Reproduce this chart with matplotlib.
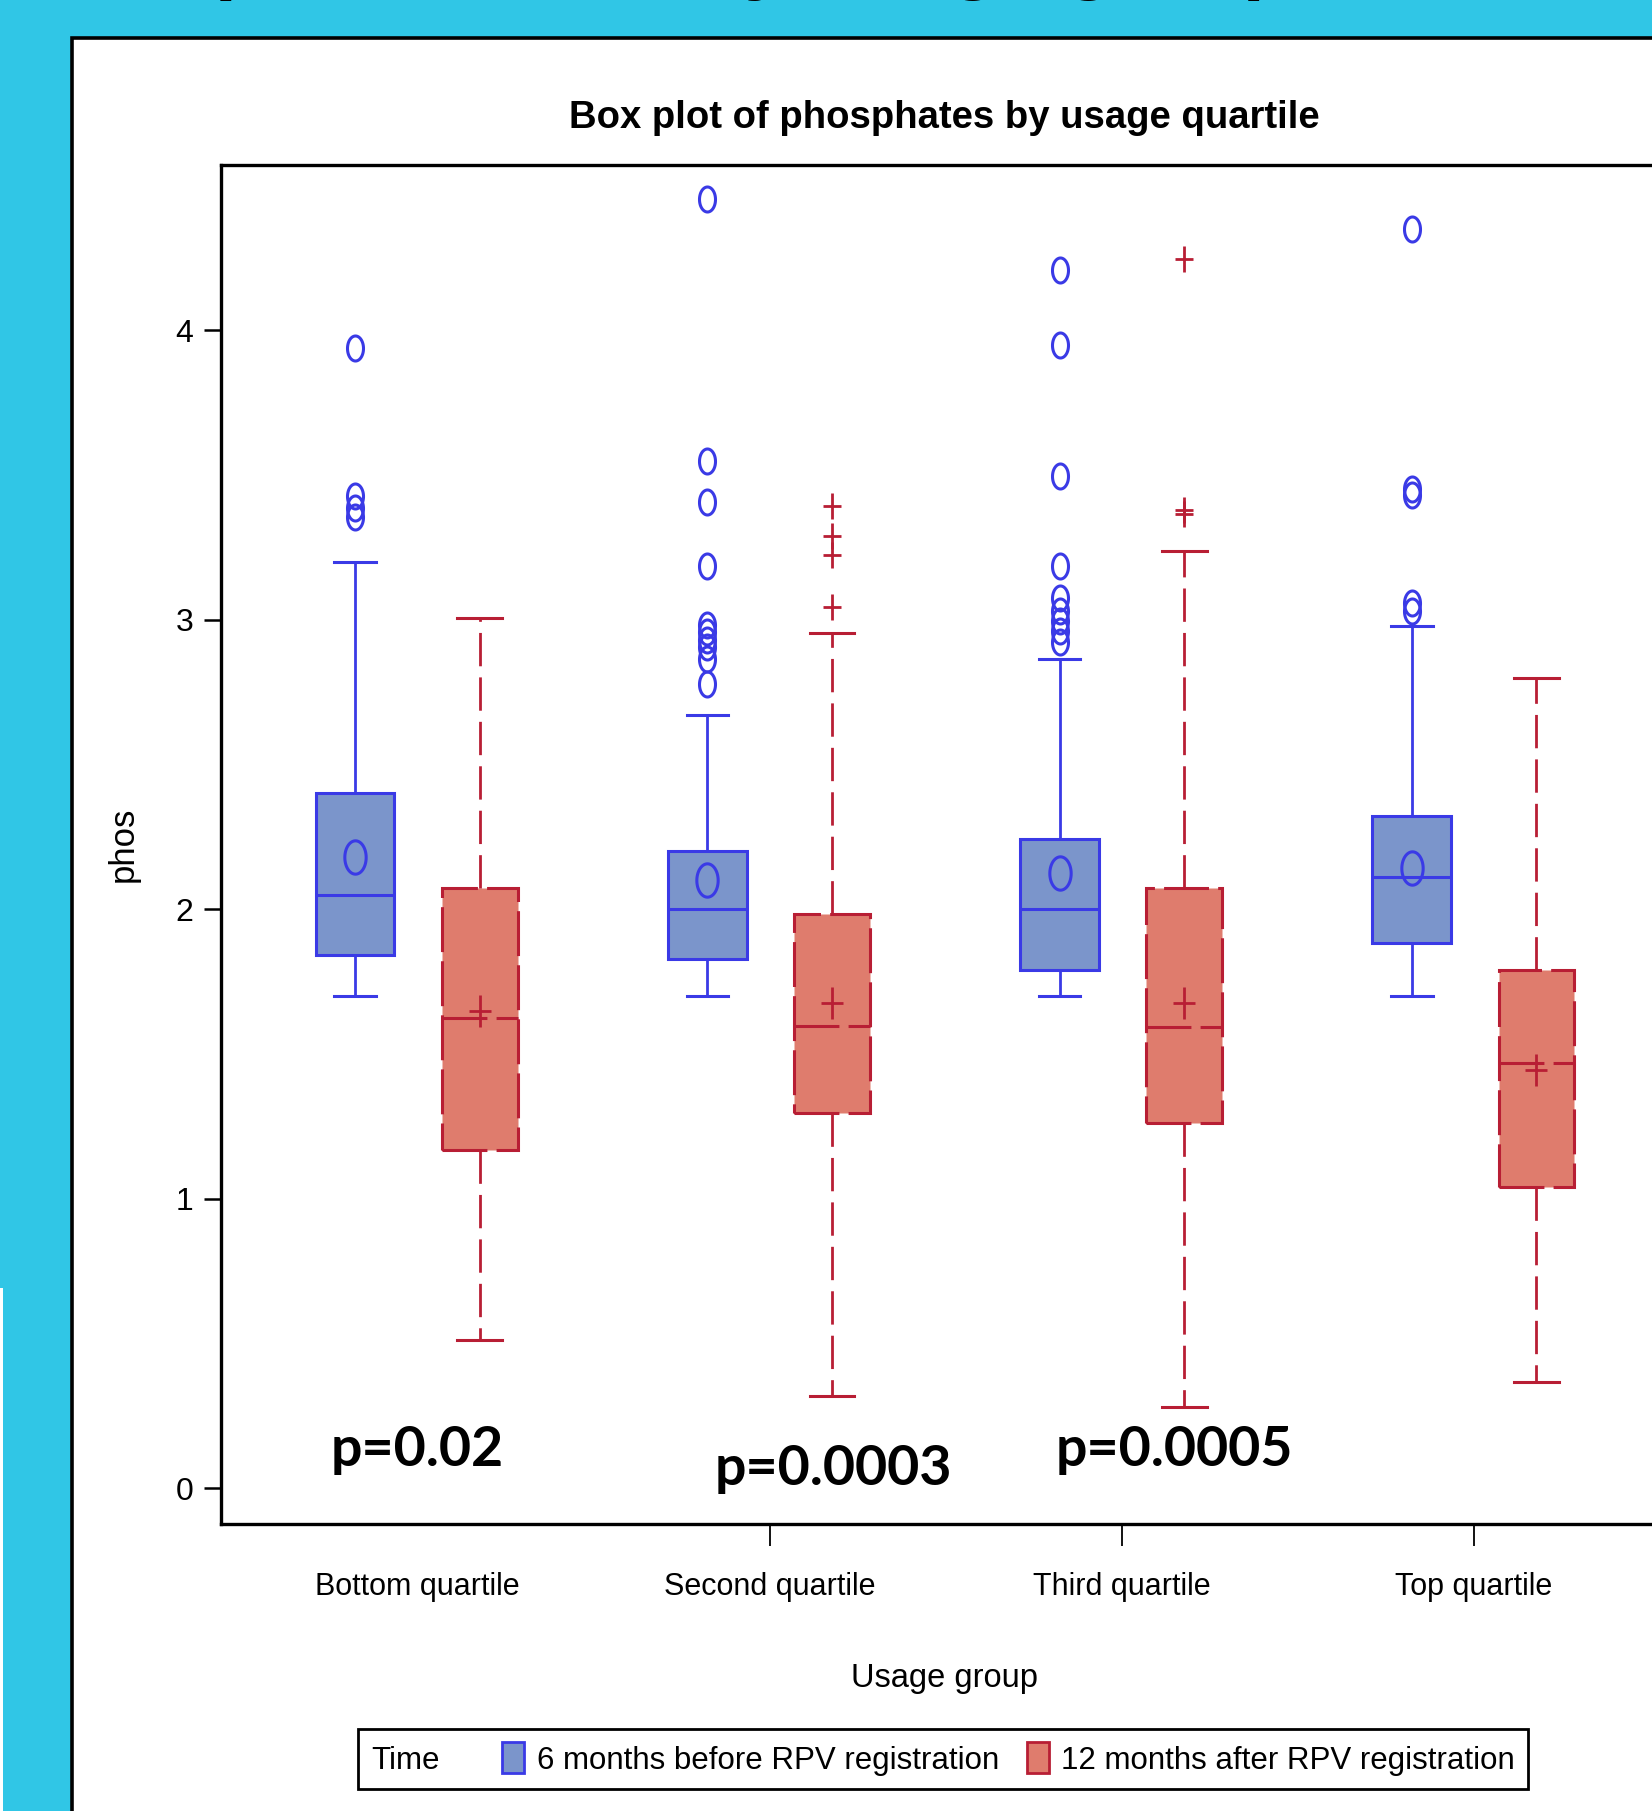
import numpy as np
import matplotlib
matplotlib.use("Agg")
import matplotlib.pyplot as plt
from matplotlib.path import Path
from matplotlib.patches import Patch, Rectangle

# ---- data ----
groups = ["Bottom quartile", "Second quartile", "Third quartile", "Top quartile"]
series = ["6 months before RPV registration", "12 months after RPV registration"]

before_q1 = [1.841, 1.830, 1.792, 1.883]
before_med = [2.049, 2.000, 2.000, 2.111]
before_q3 = [2.400, 2.203, 2.242, 2.322]
before_lo = [1.702, 1.702, 1.702, 1.702]
before_hi = [3.199, 2.670, 2.864, 2.979]
before_mean = [2.180, 2.100, 2.126, 2.142]
before_out = [[3.937, 3.426, 3.386, 3.353],
              [4.454, 3.548, 3.406, 3.185, 2.983, 2.957, 2.930, 2.904, 2.864, 2.778],
              [4.206, 3.948, 3.496, 3.185, 3.076, 3.030, 2.997, 2.960, 2.924],
              [4.348, 3.450, 3.432, 3.056, 3.029]]

after_q1 = [1.170, 1.298, 1.263, 1.042]
after_med = [1.625, 1.597, 1.594, 1.468]
after_q3 = [2.075, 1.984, 2.075, 1.792]
after_lo = [0.512, 0.319, 0.281, 0.369]
after_hi = [3.007, 2.953, 3.238, 2.798]
after_mean = [1.648, 1.676, 1.676, 1.445]
after_out = [[], [3.394, 3.289, 3.224, 3.045], [4.245, 3.380, 3.366], []]

p_labels = ["p=0.02", "p=0.0003", "p=0.0005"]
p_x = [0.0, 1.18, 2.15]
p_y = [0.077, 0.011, 0.077]

# ---- styles ----
CYAN = "#30c6e6"
BLUE = "#3a3ae6"
BLUE_FILL = "#7b95cb"
RED = "#b81e34"
RED_FILL = "#df7c6d"
ARIAL = ["Liberation Sans", "DejaVu Sans"]

plt.rcParams["font.family"] = ARIAL

t = np.linspace(0, 2 * np.pi, 64)
OVAL = Path(np.column_stack([0.64 * np.cos(t), np.sin(t)]), closed=True)
PLUS = Path([(-0.7, 0), (0.7, 0), (0, -1), (0, 1)],
            [Path.MOVETO, Path.LINETO, Path.MOVETO, Path.LINETO])


def make_stats(q1, med, q3, lo, hi, mean, out):
    return [dict(q1=a, med=b, q3=c, whislo=d, whishi=e, mean=f, fliers=g)
            for a, b, c, d, e, f, g in zip(q1, med, q3, lo, hi, mean, out)]


W, H = 1652, 1811
fig = plt.figure(figsize=(W / 100, H / 100), dpi=100)
fig.patch.set_facecolor(CYAN)

# white slide panel and stray white strip
fig.patches.append(Rectangle((71.5 / W, -0.05), 1.2, 1 - 37.5 / H + 0.05,
                             transform=fig.transFigure, facecolor="white",
                             edgecolor="black", linewidth=2.6, zorder=-5))
fig.patches.append(Rectangle((0, 0), 3 / W, (H - 1288) / H, transform=fig.transFigure,
                             facecolor="white", edgecolor="none", zorder=-4))

# cut-off slide heading (only descenders visible)
fig.text(19 / W, 1 + 16 / H, "Phosphate levels by usage group", ha="left", va="baseline",
         fontsize=57.6, fontweight="bold")

ax = fig.add_axes([220.6 / W, 1 - 1523.5 / H, (1670.3 - 220.6) / W, (1523.5 - 165.2) / H])
pos = np.arange(len(groups))

ax.bxp(make_stats(before_q1, before_med, before_q3, before_lo, before_hi, before_mean, before_out),
       positions=pos - 0.177, widths=0.224, capwidths=0.118, patch_artist=True,
       showmeans=True, manage_ticks=False,
       boxprops=dict(facecolor=BLUE_FILL, edgecolor=BLUE, linewidth=2.2),
       medianprops=dict(color=BLUE, linewidth=2.2),
       whiskerprops=dict(color=BLUE, linewidth=2),
       capprops=dict(color=BLUE, linewidth=2.2),
       meanprops=dict(marker=OVAL, markersize=24, markerfacecolor="none",
                      markeredgecolor=BLUE, markeredgewidth=2.2, linestyle="none"),
       flierprops=dict(marker=OVAL, markersize=18, markerfacecolor="none",
                       markeredgecolor=BLUE, markeredgewidth=2.2, linestyle="none"))

ax.bxp(make_stats(after_q1, after_med, after_q3, after_lo, after_hi, after_mean, after_out),
       positions=pos + 0.177, widths=0.215, capwidths=0.127, patch_artist=True,
       showmeans=True, manage_ticks=False,
       boxprops=dict(facecolor=RED_FILL, edgecolor=RED, linewidth=2.2, linestyle=(0, (14.7, 3))),
       medianprops=dict(color=RED, linewidth=2.2, linestyle=(0, (14.7, 3))),
       whiskerprops=dict(color=RED, linewidth=2, linestyle=(0, (12, 4))),
       capprops=dict(color=RED, linewidth=2.2),
       meanprops=dict(marker=PLUS, markersize=23, markeredgecolor=RED,
                      markeredgewidth=2, linestyle="none"),
       flierprops=dict(marker=PLUS, markersize=18.7, markeredgecolor=RED,
                       markeredgewidth=2, linestyle="none"))

for x, y, s in zip(p_x, p_y, p_labels):
    ax.text(x, y, s, ha="center", va="baseline", fontsize=40, fontweight="bold",
            family=["Lato", "DejaVu Sans"])

ax.set_xlim(-0.5587, 3.557)
ax.set_ylim(-0.1209, 4.5694)

ax.set_xticks(pos, groups)
ax.tick_params(axis="x", length=16, width=1.3, pad=19, labelsize=22)
ax.xaxis.get_major_ticks()[0].tick1line.set_visible(False)
ax.set_yticks(range(5))
ax.tick_params(axis="y", length=12.5, width=1.8, pad=7, labelsize=23)
for sp in ax.spines.values():
    sp.set_linewidth(2.4)

ax.set_xlabel("Usage group", fontsize=23.5)
ax.xaxis.set_label_coords(0.4993, -0.1201)
ax.xaxis.label.set_va("baseline")
ax.set_ylabel("phos", fontsize=25)
ax.yaxis.set_label_coords(-0.0556, 0.5)

fig.text(944.7 / W, 1 - 128 / H, "Box plot of phosphates by usage quartile", ha="center",
         va="baseline", fontsize=27.5, fontweight="bold")

LEG_SIZE = 22.5
handles = [Patch(facecolor="none", edgecolor="none"),
           Patch(facecolor=BLUE_FILL, edgecolor=BLUE, linewidth=2),
           Patch(facecolor=RED_FILL, edgecolor=RED, linewidth=2)]
leg = fig.legend(handles, ["Time"] + series, ncol=3, loc="center",
                 bbox_to_anchor=(943.3 / W, 1 - 1759 / H), frameon=True, fancybox=False,
                 edgecolor="black", framealpha=1, prop=dict(size=LEG_SIZE),
                 handlelength=0.7, handleheight=1.15, handletextpad=0.4,
                 columnspacing=0.9, borderpad=0.42, borderaxespad=0)
leg.get_frame().set_linewidth(2)
leg.get_texts()[0].set_x(-(0.7 + 0.4) * LEG_SIZE * 100 / 72)

fig.savefig("out.png", dpi=100, facecolor=fig.get_facecolor())
